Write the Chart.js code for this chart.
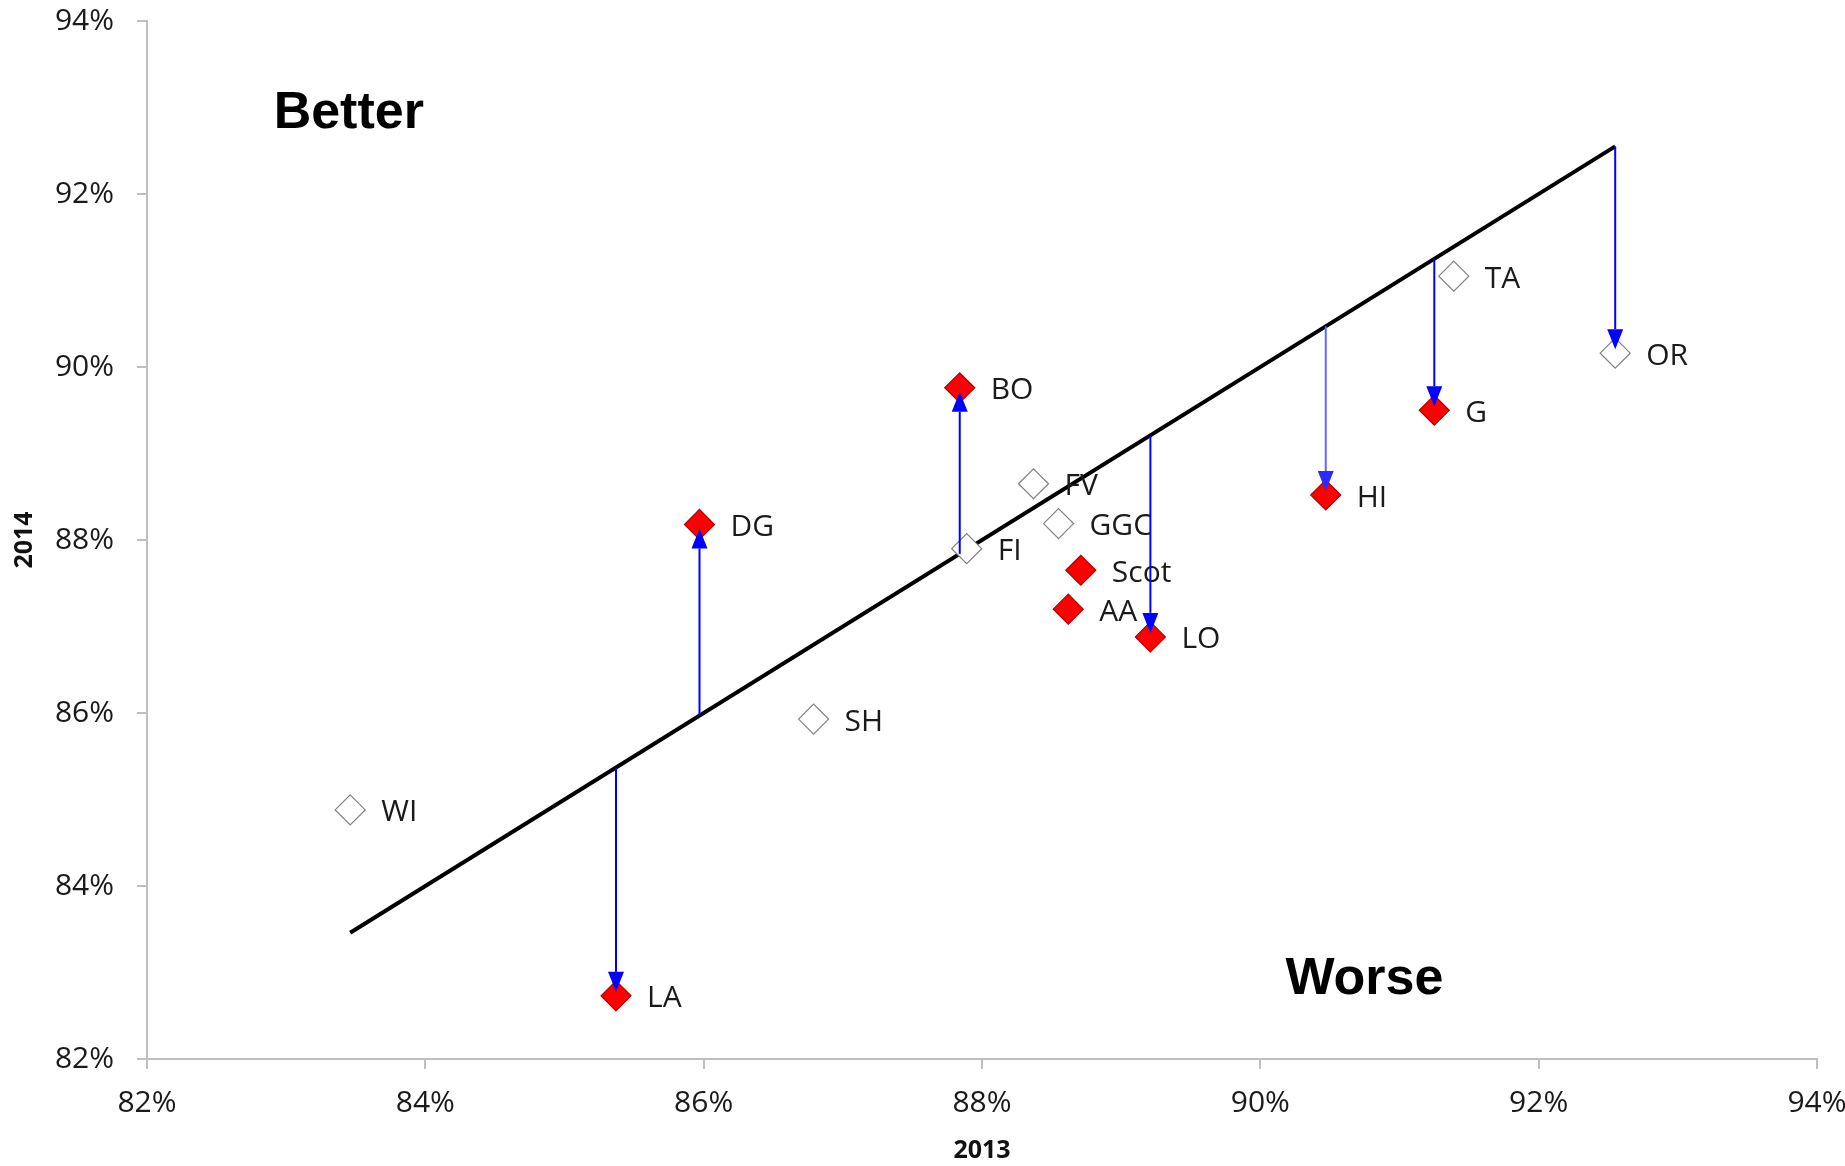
<!DOCTYPE html>
<html>
<head>
<meta charset="utf-8">
<script src="https://cdn.jsdelivr.net/npm/chart.js@4.4.1/dist/chart.umd.min.js"></script>
<style>
  html, body { margin: 0; padding: 0; background: #ffffff; }
  #wrap { width: 1845px; height: 1166px; position: relative; }
</style>
</head>
<body>
<div id="wrap"><canvas id="c"></canvas></div>
<script>
// ---- data ----
const names   = ['WI', 'LA', 'DG', 'SH', 'BO', 'FI', 'FV', 'GGC', 'Scot', 'AA', 'LO', 'HI', 'G', 'TA', 'OR'];
const val2013 = [83.46, 85.37, 85.97, 86.79, 87.84, 87.89, 88.37, 88.55, 88.71, 88.62, 89.21, 90.47, 91.25, 91.39, 92.55];
const val2014 = [84.88, 82.73, 88.18, 85.93, 89.76, 87.90, 88.65, 88.19, 87.65, 87.20, 86.88, 88.52, 89.50, 91.05, 90.16];
const filled  = [false, true, true, false, true, false, false, false, true, true, true, true, true, false, false];
const arrowed = [false, true, true, false, true, false, false, false, false, false, true, true, true, false, true];
const diagonal = [83.46, 92.55];          // y = x reference line, from / to (2013 value)
const xTicks = [82, 84, 86, 88, 90, 92, 94];
const yTicks = [82, 84, 86, 88, 90, 92, 94];
const notes = [
  { text: 'Better', x: 82.91, y: 92.93 },
  { text: 'Worse',  x: 90.18, y: 82.92 }
];

const FONT = "'Open Sans', 'DejaVu Sans', sans-serif";

const points = val2013.map((x, i) => ({ x: x, y: val2014[i] }));
const diagPts = diagonal.map(v => ({ x: v, y: v }));

const overlay = {
  id: 'overlay',
  afterDatasetsDraw(chart) {
    const ctx = chart.ctx;
    const xs = chart.scales.x, ys = chart.scales.y;
    ctx.save();
    // point labels
    ctx.font = '30px ' + FONT;
    ctx.fillStyle = '#1a1a1a';
    ctx.textAlign = 'left';
    ctx.textBaseline = 'middle';
    names.forEach((n, i) => {
      const px = xs.getPixelForValue(val2013[i]);
      const py = ys.getPixelForValue(val2014[i]);
      ctx.fillText(n, px + 31, py + 3);
    });
    // arrows from the diagonal to the 2014 value
    names.forEach((n, i) => {
      if (!arrowed[i]) return;
      const px = xs.getPixelForValue(val2013[i]);
      const y0 = ys.getPixelForValue(val2013[i]);
      const y1 = ys.getPixelForValue(val2014[i]);
      const dir = y1 > y0 ? 1 : -1;
      const tip = y1 - dir * 4;
      const headLen = 20, headHalf = 8;
      ctx.strokeStyle = n === 'HI' ? '#6464ff' : '#0000ff';
      ctx.lineWidth = 2;
      ctx.beginPath();
      ctx.moveTo(px, y0);
      ctx.lineTo(px, tip - dir * headLen);
      ctx.stroke();
      ctx.fillStyle = n === 'HI' ? '#2b2bff' : '#0000ff';
      ctx.beginPath();
      ctx.moveTo(px, tip);
      ctx.lineTo(px - headHalf, tip - dir * headLen);
      ctx.lineTo(px + headHalf, tip - dir * headLen);
      ctx.closePath();
      ctx.fill();
    });
    // Better / Worse notes
    ctx.font = "bold 52px 'Liberation Sans', Arial, sans-serif";
    ctx.fillStyle = '#000000';
    ctx.textAlign = 'left';
    ctx.textBaseline = 'middle';
    notes.forEach(nt => {
      ctx.fillText(nt.text, xs.getPixelForValue(nt.x), ys.getPixelForValue(nt.y));
    });
    ctx.restore();
  }
};

const axisColor = '#bfbfbf';

new Chart(document.getElementById('c'), {
  type: 'scatter',
  data: {
    datasets: [
      {
        label: 'Units',
        data: points,
        order: 1,
        pointStyle: 'rectRot',
        pointRadius: 15,
        pointHoverRadius: 15,
        pointBackgroundColor: filled.map(f => f ? '#ff0000' : '#ffffff'),
        pointBorderColor: filled.map(f => f ? '#b00000' : '#808080'),
        pointBorderWidth: 1.2,
        showLine: false
      },
      {
        type: 'line',
        label: 'No change',
        data: diagPts,
        order: 2,
        borderColor: '#000000',
        borderWidth: 4,
        pointRadius: 0,
        fill: false,
        tension: 0
      }
    ]
  },
  options: {
    responsive: true,
    maintainAspectRatio: false,
    animation: false,
    events: [],
    layout: { padding: { top: 21, right: 28, left: 0, bottom: 0 } },
    plugins: {
      legend: { display: false },
      tooltip: { enabled: false }
    },
    scales: {
      x: {
        type: 'linear',
        min: 82, max: 94,
        afterBuildTicks: s => { s.ticks = xTicks.map(v => ({ value: v })); },
        ticks: {
          autoSkip: false,
          maxRotation: 0,
          padding: 16,
          color: '#1a1a1a',
          font: { family: FONT, size: 30 },
          callback: v => v + '%'
        },
        grid: { drawOnChartArea: false, drawTicks: true, tickLength: 10, color: axisColor, lineWidth: 2 },
        border: { color: axisColor, width: 2 },
        title: {
          display: true, text: '2013', color: '#111111',
          font: { family: FONT, size: 25, weight: 'bold' },
          padding: { top: 0, bottom: 0 }
        },
        afterFit: s => { s.height = 107; s.paddingLeft = 0; s.paddingRight = 0; }
      },
      y: {
        type: 'linear',
        min: 82, max: 94,
        afterBuildTicks: s => { s.ticks = yTicks.map(v => ({ value: v })); },
        ticks: {
          autoSkip: false,
          padding: 23,
          color: '#1a1a1a',
          font: { family: FONT, size: 30 },
          callback: v => v + '%'
        },
        grid: { drawOnChartArea: false, drawTicks: true, tickLength: 10, color: axisColor, lineWidth: 2 },
        border: { color: axisColor, width: 2 },
        title: {
          display: true, text: '2014', color: '#111111',
          font: { family: FONT, size: 25, weight: 'bold' },
          padding: { top: 10, bottom: 0 }
        },
        afterFit: s => { s.width = 147; s.paddingTop = 0; s.paddingBottom = 0; }
      }
    }
  },
  plugins: [overlay]
});
</script>
</body>
</html>
